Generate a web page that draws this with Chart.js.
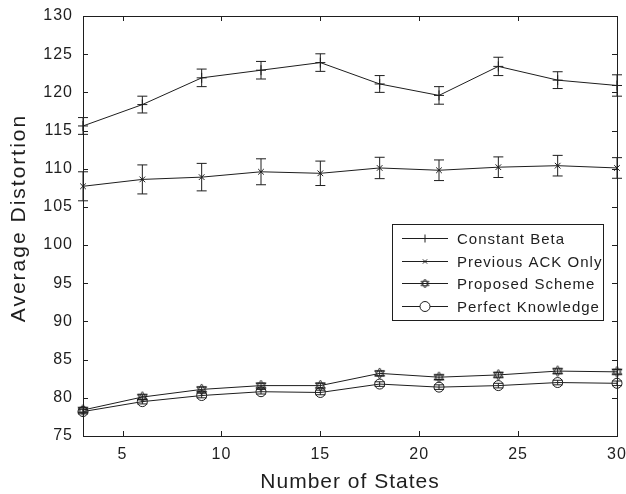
<!DOCTYPE html>
<html>
<head>
<meta charset="utf-8">
<script src="https://cdn.jsdelivr.net/npm/chart.js@4/dist/chart.umd.min.js"></script>
<style>
  html, body { margin: 0; padding: 0; background: #fff; }
  #wrap { width: 626px; height: 494px; }
</style>
</head>
<body>
<div id="wrap"><canvas id="distChart" width="626" height="494"></canvas></div>
<script>
// data
var states = [3, 6, 9, 12, 15, 18, 21, 24, 27, 30];
var xTicks = [5, 10, 15, 20, 25, 30];

var constantBeta    = [115.6, 118.4, 121.9, 122.9, 123.9, 121.1, 119.6, 123.4, 121.6, 120.9];
var constantBetaErr = [1.1, 1.1, 1.15, 1.15, 1.15, 1.1, 1.15, 1.2, 1.1, 1.4];
var prevAck         = [107.7, 108.6, 108.9, 109.6, 109.4, 110.1, 109.8, 110.2, 110.4, 110.1];
var prevAckErr      = [1.9, 1.9, 1.8, 1.7, 1.6, 1.4, 1.35, 1.35, 1.35, 1.35];
var proposed        = [78.4, 80.1, 81.1, 81.6, 81.6, 83.2, 82.7, 83.0, 83.5, 83.4];
var proposedErr     = [0.3, 0.3, 0.3, 0.3, 0.3, 0.3, 0.3, 0.3, 0.3, 0.3];
var perfect         = [78.2, 79.5, 80.3, 80.8, 80.7, 81.8, 81.4, 81.6, 82.0, 81.9];
var perfectErr      = [0.3, 0.3, 0.3, 0.3, 0.3, 0.3, 0.3, 0.3, 0.3, 0.3];

var xTitle = 'Number of States';
var yTitle = 'Average Distortion';

var INK = '#1e1e1e';
var FONT = '"Liberation Sans", Arial, Helvetica, sans-serif';

// hexagram marker (two triangles)
function makeStar(r) {
    var c = document.createElement('canvas');
    var s = Math.ceil(r * 2 + 4);
    c.width = s; c.height = s;
    var g = c.getContext('2d');
    g.strokeStyle = INK;
    g.lineWidth = 0.9;
    for (var k = 0; k < 2; k++) {
        g.beginPath();
        for (var i = 0; i < 3; i++) {
            var a = -Math.PI / 2 + k * Math.PI + i * 2 * Math.PI / 3;
            var px = s / 2 + r * Math.cos(a), py = s / 2 + r * Math.sin(a);
            if (i === 0) g.moveTo(px, py); else g.lineTo(px, py);
        }
        g.closePath();
        g.stroke();
    }
    return c;
}
var starImg = makeStar(5.5);
var starSmall = makeStar(4.5);

function toPoints(ys) {
    return states.map(function (x, i) { return { x: x, y: ys[i] }; });
}

function makeSet(label, ys, errs, style, radius) {
    return {
        label: label,
        data: toPoints(ys),
        errors: errs,
        borderColor: INK,
        backgroundColor: 'rgba(0,0,0,0)',
        borderWidth: 1,
        pointStyle: style,
        pointRadius: radius,
        pointBorderColor: INK,
        pointBorderWidth: 1,
        pointBackgroundColor: 'rgba(0,0,0,0)',
        tension: 0,
        clip: false
    };
}

var datasets = [
    makeSet('Constant Beta', constantBeta, constantBetaErr, 'cross', 5),
    makeSet('Previous ACK Only', prevAck, prevAckErr, 'crossRot', 4),
    makeSet('Proposed Scheme', proposed, proposedErr, starImg, 5),
    makeSet('Perfect Knowledge', perfect, perfectErr, 'circle', 5)
];
var legendMarks = ['cross', 'crossRot', starSmall, 'circle'];
var legendSizes = [4, 3, 4, 5];

// wider lettering, error bars, frame, inward ticks, titles and legend box
var extras = {
    id: 'extras',
    beforeDraw: function (chart) {
        chart.ctx.letterSpacing = '1px';
    },
    afterDatasetsDraw: function (chart) {
        var ctx = chart.ctx;
        var xs = chart.scales.x, ys = chart.scales.y;
        var a = chart.chartArea;
        ctx.save();
        ctx.strokeStyle = INK;
        ctx.lineWidth = 1;

        chart.data.datasets.forEach(function (ds) {
            ds.data.forEach(function (p, i) {
                var e = ds.errors[i];
                var px = xs.getPixelForValue(p.x);
                var top = ys.getPixelForValue(p.y + e);
                var bot = ys.getPixelForValue(p.y - e);
                ctx.beginPath();
                ctx.moveTo(px, top); ctx.lineTo(px, bot);
                ctx.moveTo(px - 5, top); ctx.lineTo(px + 5, top);
                ctx.moveTo(px - 5, bot); ctx.lineTo(px + 5, bot);
                ctx.stroke();
            });
        });

        // frame
        ctx.strokeRect(Math.round(a.left) + 0.5, Math.round(a.top) + 0.5,
            Math.round(a.right - a.left), Math.round(a.bottom - a.top));

        // inward ticks
        ctx.beginPath();
        xs.ticks.forEach(function (t) {
            var px = Math.round(xs.getPixelForValue(t.value)) + 0.5;
            ctx.moveTo(px, a.bottom); ctx.lineTo(px, a.bottom - 5);
            ctx.moveTo(px, a.top); ctx.lineTo(px, a.top + 5);
        });
        ys.ticks.forEach(function (t) {
            var py = Math.round(ys.getPixelForValue(t.value)) + 0.5;
            ctx.moveTo(a.left, py); ctx.lineTo(a.left + 5, py);
            ctx.moveTo(a.right, py); ctx.lineTo(a.right - 5, py);
        });
        ctx.stroke();

        // axis titles
        ctx.fillStyle = INK;
        ctx.font = '21px ' + FONT;
        ctx.textAlign = 'center';
        ctx.textBaseline = 'alphabetic';
        ctx.letterSpacing = '1px';
        ctx.fillText(xTitle, (a.left + a.right) / 2, 488);
        ctx.save();
        ctx.translate(25, (a.top + a.bottom) / 2 - 8);
        ctx.rotate(-Math.PI / 2);
        ctx.letterSpacing = '2px';
        ctx.fillText(yTitle, 0, 0);
        ctx.restore();

        // legend
        var bx = a.right - 225, by = a.top + 208, bw = 211, bh = 96;
        ctx.fillStyle = '#fff';
        ctx.fillRect(bx, by, bw, bh);
        ctx.strokeRect(Math.round(bx) + 0.5, Math.round(by) + 0.5, bw, bh);
        ctx.font = '15px ' + FONT;
        ctx.letterSpacing = '1px';
        ctx.textBaseline = 'middle';
        ctx.textAlign = 'left';
        chart.data.datasets.forEach(function (ds, i) {
            var ry = Math.round(by + 14 + i * 22.5) + 0.5;
            var lx0 = bx + 10, lx1 = bx + 56;
            ctx.beginPath();
            ctx.moveTo(lx0, ry); ctx.lineTo(lx1, ry);
            ctx.stroke();
            ctx.fillStyle = '#fff';
            Chart.helpers.drawPoint(ctx, {
                pointStyle: legendMarks[i],
                radius: legendSizes[i],
                borderWidth: 1,
                rotation: 0
            }, (lx0 + lx1) / 2, ry);
            ctx.fillStyle = INK;
            ctx.fillText(ds.label, bx + 65, ry + 1);
        });
        ctx.restore();
    }
};

var ctx = document.getElementById('distChart').getContext('2d');
var chart = new Chart(ctx, {
    type: 'line',
    data: { datasets: datasets },
    options: {
        responsive: false,
        animation: false,
        layout: { padding: { left: 0, top: 16, right: 9, bottom: 0 } },
        plugins: { legend: { display: false }, tooltip: { enabled: false } },
        scales: {
            x: {
                type: 'linear',
                min: 3,
                max: 30,
                afterBuildTicks: function (s) {
                    s.ticks = xTicks.map(function (v) { return { value: v }; });
                },
                afterFit: function (s) {
                    s.height = 58;
                    s.paddingLeft = 0;
                    s.paddingRight = 0;
                },
                grid: { display: false, drawTicks: false },
                border: { display: false },
                ticks: { color: INK, font: { family: FONT, size: 16 }, padding: 9, maxRotation: 0 }
            },
            y: {
                min: 75,
                max: 130,
                ticks: { stepSize: 5, color: INK, font: { family: FONT, size: 16 }, padding: 10 },
                afterFit: function (s) {
                    s.width = 83;
                    s.paddingTop = 0;
                    s.paddingBottom = 0;
                },
                grid: { display: false, drawTicks: false },
                border: { display: false }
            }
        }
    },
    plugins: [extras]
});
</script>
</body>
</html>
